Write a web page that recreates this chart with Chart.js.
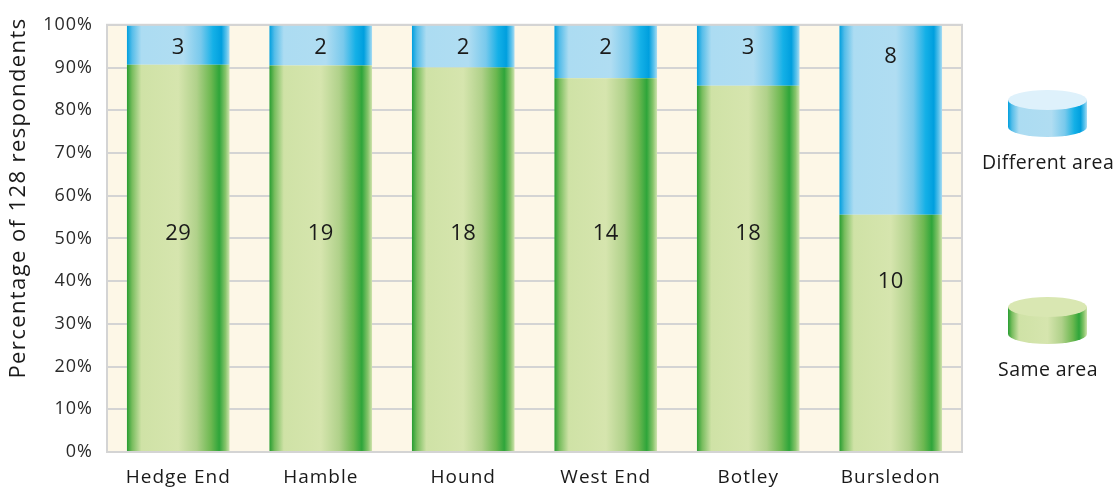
<!DOCTYPE html>
<html>
<head>
<meta charset="utf-8">
<script src="https://cdn.jsdelivr.net/npm/chart.js@4.4.1/dist/chart.umd.min.js"></script>
<style>
  html, body { margin: 0; padding: 0; background: #ffffff; }
  #wrap { width: 1113px; height: 493px; }
</style>
</head>
<body>
<div id="wrap"><canvas id="areaChart"></canvas></div>
<script>
// Respondents per area: same area vs different area
const areas = ['Hedge End', 'Hamble', 'Hound', 'West End', 'Botley', 'Bursledon'];
const sameArea = [29, 19, 18, 14, 18, 10];
const differentArea = [3, 2, 2, 2, 3, 8];
const totalRespondents = 128;
const yTicks = [0, 10, 20, 30, 40, 50, 60, 70, 80, 90, 100];

const FONT = '"Open Sans", "Noto Sans", sans-serif';

// Share of each bar as a percentage
const totals = areas.map((_, i) => sameArea[i] + differentArea[i]);
const samePct = sameArea.map((v, i) => v / totals[i] * 100);
const diffPct = differentArea.map((v, i) => v / totals[i] * 100);

// Colour stops across the bar width, gives the rounded tube look
const greenStops = [
  [0, '#279d31'], [0.05, '#78bd5e'], [0.14, '#cfe2a6'], [0.5, '#d6e5ae'],
  [0.68, '#b0d18a'], [0.82, '#6cb850'], [0.9, '#2ea53a'], [0.96, '#86c46a'], [1, '#cfe3ad']
];
const blueStops = [
  [0, '#009fde'], [0.05, '#55bde9'], [0.14, '#acdcf2'], [0.55, '#b0ddf2'],
  [0.72, '#78c9ec'], [0.84, '#14b0e7'], [0.92, '#009fde'], [0.97, '#5ec3ec'], [1, '#a8dcf3']
];
const CAT_PCT = 0.72;

function barGradient(context, stops) {
  const chart = context.chart;
  const xs = chart.scales.x;
  if (!chart.chartArea || !xs) return stops[3][1];
  const c = xs.getPixelForValue(context.dataIndex);
  const half = xs.width / areas.length * CAT_PCT / 2;
  const g = chart.ctx.createLinearGradient(c - half, 0, c + half, 0);
  stops.forEach(([o, col]) => g.addColorStop(o, col));
  return g;
}

// Cream plot background and frame; slightly tracked text for axis labels
const plotBackground = {
  id: 'plotBackground',
  beforeDraw(chart) {
    const { ctx, chartArea: a } = chart;
    ctx.letterSpacing = '1px';
    ctx.save();
    ctx.fillStyle = '#fdf7e7';
    ctx.fillRect(a.left, a.top, a.right - a.left, a.bottom - a.top);
    ctx.restore();
  },
  afterDraw(chart) {
    const { ctx, chartArea: a } = chart;
    ctx.save();
    ctx.strokeStyle = '#d4d4d4';
    ctx.lineWidth = 2;
    ctx.strokeRect(a.left, a.top, a.right - a.left, a.bottom - a.top);
    ctx.restore();
  }
};

// Y axis title, sits a little above the middle of the plot
const yTitle = {
  id: 'yTitle',
  afterDraw(chart) {
    const { ctx } = chart;
    ctx.save();
    ctx.letterSpacing = '1.4px';
    ctx.translate(19, 198);
    ctx.rotate(-Math.PI / 2);
    ctx.font = '22px ' + FONT;
    ctx.fillStyle = '#1a1a1a';
    ctx.textAlign = 'center';
    ctx.textBaseline = 'middle';
    ctx.fillText('Percentage of ' + totalRespondents + ' respondents', 0, 0);
    ctx.restore();
  }
};

// Counts written inside the bar segments
const countLabels = {
  id: 'countLabels',
  afterDatasetsDraw(chart) {
    const { ctx } = chart;
    const ys = chart.scales.y;
    ctx.save();
    ctx.letterSpacing = '0.5px';
    ctx.font = '22px ' + FONT;
    ctx.fillStyle = '#1a1a1a';
    ctx.textAlign = 'center';
    ctx.textBaseline = 'middle';
    const green = chart.getDatasetMeta(0).data;
    const blue = chart.getDatasetMeta(1).data;
    green.forEach((bar, i) => {
      const y = Math.max(ys.getPixelForValue(51), bar.y + 67);
      ctx.fillText(sameArea[i], bar.x, y);
    });
    blue.forEach((bar, i) => {
      const h = bar.base - bar.y;
      ctx.fillText(differentArea[i], bar.x, bar.y + Math.max(23, h * 0.17));
    });
    ctx.restore();
  }
};

// Legend on the right: a small cylinder per series with its label below
function drawCylinder(ctx, x, y, w, h, stops, topColor) {
  const rx = w / 2, ry = 10, cx = x + rx;
  const g = ctx.createLinearGradient(x, 0, x + w, 0);
  stops.forEach(([o, col]) => g.addColorStop(o, col));
  ctx.fillStyle = g;
  ctx.beginPath();
  ctx.moveTo(x, y + ry);
  ctx.lineTo(x, y + h - ry);
  ctx.ellipse(cx, y + h - ry, rx, ry, 0, Math.PI, 0, true);
  ctx.lineTo(x + w, y + ry);
  ctx.closePath();
  ctx.fill();
  ctx.fillStyle = topColor;
  ctx.beginPath();
  ctx.ellipse(cx, y + ry, rx, ry, 0, 0, Math.PI * 2);
  ctx.fill();
}

const cylinderLegend = {
  id: 'cylinderLegend',
  afterDraw(chart) {
    const { ctx } = chart;
    const items = [
      { label: chart.data.datasets[1].label, stops: blueStops, top: '#def1fb', y: 90 },
      { label: chart.data.datasets[0].label, stops: greenStops, top: '#d9e7b2', y: 297 }
    ];
    ctx.save();
    ctx.letterSpacing = '0.4px';
    items.forEach(it => {
      drawCylinder(ctx, 1008, it.y, 79, 47, it.stops, it.top);
      ctx.font = '19.5px ' + FONT;
      ctx.fillStyle = '#1a1a1a';
      ctx.textAlign = 'center';
      ctx.textBaseline = 'middle';
      ctx.fillText(it.label, 1048, it.y + 73);
    });
    ctx.restore();
  }
};

new Chart(document.getElementById('areaChart'), {
  type: 'bar',
  data: {
    labels: areas,
    datasets: [
      {
        label: 'Same area',
        data: samePct,
        backgroundColor: ctx => barGradient(ctx, greenStops),
        categoryPercentage: CAT_PCT,
        barPercentage: 1
      },
      {
        label: 'Different area',
        data: diffPct,
        backgroundColor: ctx => barGradient(ctx, blueStops),
        categoryPercentage: CAT_PCT,
        barPercentage: 1
      }
    ]
  },
  options: {
    responsive: true,
    maintainAspectRatio: false,
    animation: false,
    layout: { padding: { top: 24, right: 151, left: 0, bottom: 0 } },
    scales: {
      x: {
        stacked: true,
        grid: { display: false, drawTicks: false },
        border: { display: false },
        ticks: { color: '#1a1a1a', font: { family: FONT, size: 19 }, padding: 14 },
        afterFit(scale) { scale.height = 41; }
      },
      y: {
        stacked: true,
        min: 0,
        max: 100,
        afterBuildTicks(scale) { scale.ticks = yTicks.map(v => ({ value: v })); },
        grid: { color: '#d4d4d4', lineWidth: 2, drawTicks: false },
        border: { display: false },
        ticks: {
          color: '#2a2a2a',
          font: { family: FONT, size: 18 },
          padding: 14,
          callback: v => v + '%'
        },
        afterFit(scale) { scale.width = 107; }
      }
    },
    plugins: {
      legend: { display: false },
      tooltip: { enabled: false }
    }
  },
  plugins: [plotBackground, yTitle, countLabels, cylinderLegend]
});
</script>
</body>
</html>
